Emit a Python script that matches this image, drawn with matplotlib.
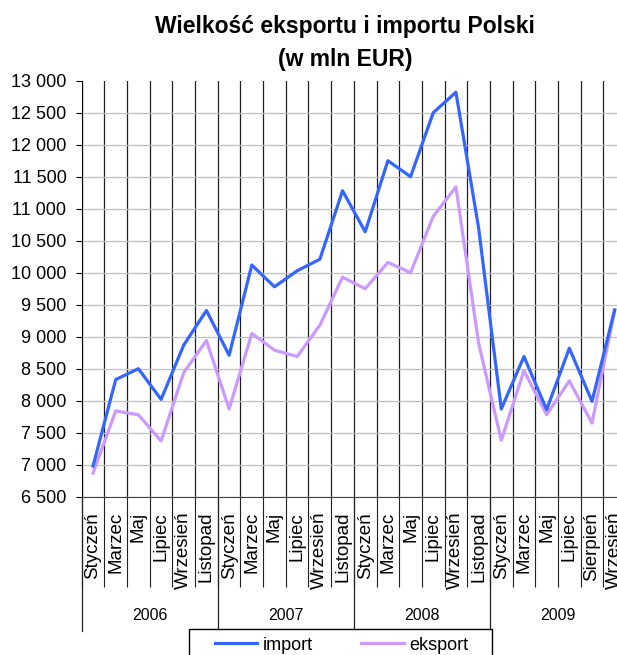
import numpy as np
import matplotlib
matplotlib.use("Agg")
import matplotlib.pyplot as plt
from matplotlib.patches import Rectangle
from matplotlib.lines import Line2D

plt.rcParams['font.family'] = ['Liberation Sans', 'DejaVu Sans']

#%% data (mln EUR)
months = ['Styczeń', 'Marzec', 'Maj', 'Lipiec', 'Wrzesień', 'Listopad',
          'Styczeń', 'Marzec', 'Maj', 'Lipiec', 'Wrzesień', 'Listopad',
          'Styczeń', 'Marzec', 'Maj', 'Lipiec', 'Wrzesień', 'Listopad',
          'Styczeń', 'Marzec', 'Maj', 'Lipiec', 'Sierpień', 'Wrzesień']
years = ['2006', '2007', '2008', '2009']
per_year = 6

import_vals = [6980, 8330, 8500, 8020, 8870, 9410,
               8710, 10120, 9780, 10030, 10210, 11280,
               10640, 11750, 11500, 12500, 12820, 10700,
               7870, 8690, 7860, 8820, 7990, 9420]
export_vals = [6870, 7840, 7780, 7370, 8440, 8940,
               7870, 9050, 8790, 8690, 9180, 9930,
               9750, 10160, 10000, 10880, 11340, 8900,
               7380, 8470, 7780, 8310, 7650, 9410]

yticks = np.arange(6500, 13001, 500)

#%% figure
W, H = 617, 655
fig = plt.figure(figsize=(W / 100, H / 100), dpi=100)
ax_left, ax_top, ax_bottom = 81.7, 80.7, 496.7
cat_w = 22.68
n = len(months)
ax = fig.add_axes([ax_left / W, (H - ax_bottom) / H,
                   n * cat_w / W, (ax_bottom - ax_top) / H])
ax_h = ax_bottom - ax_top

x = np.arange(n)
ax.plot(x, import_vals, color='#3366FF', lw=2.3, zorder=5, label='import')
ax.plot(x, export_vals, color='#CC99FF', lw=2.3, zorder=4, label='eksport')

ax.set_xlim(-0.5, n - 0.5)
ax.set_ylim(6500, 13000)
ax.set_yticks(yticks)
ax.set_yticklabels([f"{v:,}".replace(",", " ") for v in yticks], fontsize=13)
ax.tick_params(axis='y', length=4, width=0.8, pad=7, color='black')

# month labels + separators
ax.set_xticks(x)
ax.set_xticklabels(months, rotation=90, va='top', ha='center', fontsize=13.5)
ax.set_xticks(np.arange(n + 1) - 0.5, minor=True)
ax.tick_params(axis='x', which='major', length=0, pad=11)
ax.tick_params(axis='x', which='minor', length=90 * 0.72, width=0.8, color='#202020')

ax.xaxis.grid(True, which='minor', color='#202020', lw=0.9)
ax.yaxis.grid(True, which='major', color='#c0c0c0', lw=0.9)
ax.yaxis.get_gridlines()[-1].set_visible(False)
ax.set_axisbelow(True)

for s in ['top', 'right']:
    ax.spines[s].set_visible(False)
ax.spines['left'].set_color('black')
ax.spines['bottom'].set_color('#404040')

# year groups
trans = ax.get_xaxis_transform()
for k, yr in enumerate(years):
    start = k * per_year - 0.5
    ax.text(start + per_year / 2, -(615.7 - ax_bottom) / ax_h, yr,
            transform=trans, ha='center', va='center', fontsize=11.5)
    bottom = 631 if k == 0 else 629
    ax.plot([start, start], [0, -(bottom - ax_bottom) / ax_h], transform=trans,
            color='#202020', lw=0.9, clip_on=False)

# title
fig.text(345 / W, 1 - 33.3 / H, 'Wielkość eksportu i importu Polski',
         ha='center', va='baseline', fontsize=16.5, fontweight='bold')
fig.text(345 / W, 1 - 66 / H, '(w mln EUR)',
         ha='center', va='baseline', fontsize=16.5, fontweight='bold')

# legend with its own box (bottom runs off the picture)
handles = [Line2D([], [], color='#3366FF', lw=2.3),
           Line2D([], [], color='#CC99FF', lw=2.3)]
fig.legend(handles, ['import', 'eksport'], loc='center left',
           bbox_to_anchor=(215 / W, 1 - 645 / H), ncol=2, frameon=False,
           fontsize=13, handlelength=2.35, handletextpad=0.28,
           columnspacing=2.7, borderpad=0, borderaxespad=0)
fig.patches.append(Rectangle((189 / W, -0.1), (492 - 189) / W, 0.1 + 1 - 629 / H,
                             transform=fig.transFigure, fill=False,
                             ec='black', lw=1))

fig.savefig('out.png', dpi=100)
